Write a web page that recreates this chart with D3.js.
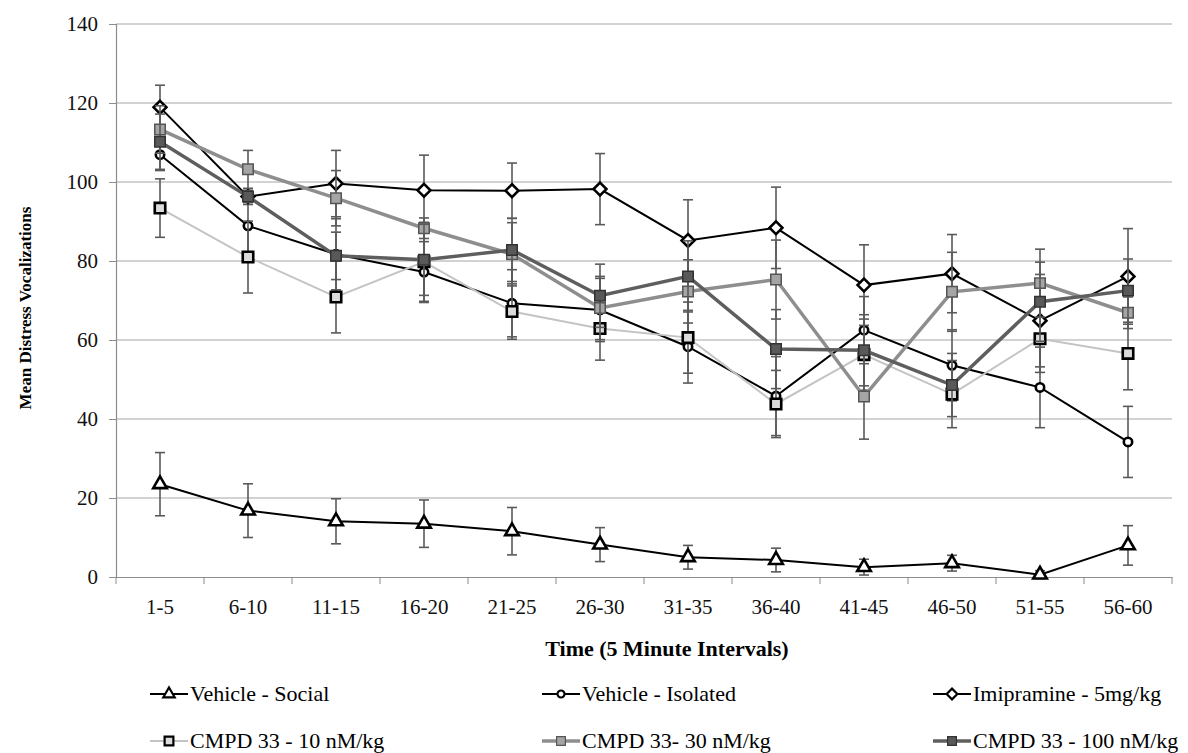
<!DOCTYPE html>
<html>
<head>
<meta charset="utf-8">
<script src="https://cdn.jsdelivr.net/npm/d3@7"></script>
<style>
  body { margin: 0; background: #fff; }
  svg, svg text { font-family: "Liberation Serif", "Times New Roman", "DejaVu Serif", serif; }
</style>
</head>
<body>
<svg width="1188" height="753"></svg>
<script>
const categories = ['1-5', '6-10', '11-15', '16-20', '21-25', '26-30', '31-35', '36-40', '41-45', '46-50', '51-55', '56-60'];
const yTicks = [0, 20, 40, 60, 80, 100, 120, 140];

const vehicleSocial = [23.5, 16.8, 14.1, 13.5, 11.6, 8.2, 5.0, 4.3, 2.5, 3.5, 0.6, 8.0];
const vehicleSocialErr = [8, 6.8, 5.7, 6, 6, 4.3, 3, 3, 2, 2, 1, 5];
const vehicleIsolated = [106.9, 88.9, 81.7, 77.2, 69.3, 67.6, 58.3, 45.8, 62.5, 53.6, 48.0, 34.2];
const vehicleIsolatedErr = [4, 8, 9, 7.7, 8.5, 8, 9.2, 10, 8.5, 9, 10.2, 9];
const imipramine = [118.9, 96.3, 99.6, 97.9, 97.8, 98.2, 85.2, 88.4, 73.9, 76.8, 64.9, 76.1];
const imipramineErr = [5.6, 2, 8.4, 8.9, 7, 9, 10.3, 10.3, 10.2, 9.9, 11.7, 12.1];
const cmpd10 = [93.4, 81.0, 70.9, 79.8, 67.2, 62.9, 60.6, 43.8, 56.3, 46.3, 60.3, 56.6];
const cmpd10Err = [7.4, 9.1, 9.1, 10, 7, 8, 9, 8.5, 9, 8.5, 8.5, 9.2];
const cmpd30 = [113.3, 103.2, 95.9, 88.3, 81.7, 68.1, 72.3, 75.3, 45.7, 72.2, 74.4, 66.9];
const cmpd30Err = [6, 4.8, 7, 2.6, 8, 8, 8, 10, 10.8, 10, 8.6, 4];
const cmpd100 = [110.2, 96.3, 81.3, 80.3, 82.8, 71.2, 76.1, 57.7, 57.4, 48.6, 69.7, 72.5];
const cmpd100Err = [7, 1.5, 6, 9, 8, 8, 9, 10, 9, 8, 10, 8];

const series = [
  { label: 'Vehicle - Social', values: vehicleSocial, err: vehicleSocialErr, shape: 'triangle', line: '#000', lw: 2, fill: '#fff', stroke: '#000' },
  { label: 'Vehicle - Isolated', values: vehicleIsolated, err: vehicleIsolatedErr, shape: 'circle', line: '#000', lw: 2, fill: '#fff', stroke: '#000' },
  { label: 'Imipramine - 5mg/kg', values: imipramine, err: imipramineErr, shape: 'diamond', line: '#000', lw: 2, fill: '#fff', stroke: '#000' },
  { label: 'CMPD 33 - 10 nM/kg', values: cmpd10, err: cmpd10Err, shape: 'square', line: '#c4c4c4', lw: 2, fill: '#dcdcdc', stroke: '#000' },
  { label: 'CMPD 33- 30 nM/kg', values: cmpd30, err: cmpd30Err, shape: 'square', line: '#8e8e8e', lw: 3.5, fill: '#a5a5a5', stroke: '#555' },
  { label: 'CMPD 33 - 100 nM/kg', values: cmpd100, err: cmpd100Err, shape: 'square', line: '#5e5e5e', lw: 3.5, fill: '#595959', stroke: '#333' }
];

const FONT = '"Liberation Serif", "Times New Roman", "DejaVu Serif", serif';
const svg = d3.select('svg');
const margin = { left: 116, right: 1172, top: 24, bottom: 577 };

const x = d3.scaleBand().domain(categories).range([margin.left, margin.right]);
const y = d3.scaleLinear().domain([0, 140]).range([margin.bottom, margin.top]);

// gridlines
svg.append('g')
  .selectAll('line')
  .data(yTicks.filter(d => d > 0))
  .join('line')
  .attr('x1', margin.left).attr('x2', margin.right)
  .attr('y1', d => y(d)).attr('y2', d => y(d))
  .attr('stroke', '#a6a6a6').attr('stroke-width', 1.2);

// y axis
const yAxis = svg.append('g')
  .attr('transform', `translate(${margin.left},0)`)
  .call(d3.axisLeft(y).tickValues(yTicks).tickSize(7).tickPadding(11))
  .attr('font-family', FONT);
yAxis.select('.domain').attr('stroke', '#8c8c8c').attr('stroke-width', 1.2);
yAxis.selectAll('.tick line').attr('stroke', '#8c8c8c');
yAxis.selectAll('text').attr('font-size', 21).attr('fill', '#111');

// x axis
const xAxis = svg.append('g')
  .attr('transform', `translate(0,${margin.bottom})`)
  .call(d3.axisBottom(x).tickSize(0).tickPadding(22))
  .attr('font-family', FONT);
xAxis.select('.domain').attr('stroke', '#8c8c8c').attr('stroke-width', 1.2);
xAxis.selectAll('text').attr('font-size', 21).attr('fill', '#111');
xAxis.append('g')
  .selectAll('line')
  .data(d3.range(categories.length + 1))
  .join('line')
  .attr('x1', i => margin.left + i * x.step()).attr('x2', i => margin.left + i * x.step())
  .attr('y1', 0).attr('y2', 7)
  .attr('stroke', '#8c8c8c');

// axis titles
svg.append('text')
  .attr('transform', `translate(31,308) rotate(-90)`)
  .attr('text-anchor', 'middle')
  .attr('font-family', FONT)
  .attr('font-size', 17).attr('font-weight', 'bold')
  .text('Mean Distress Vocalizations');
svg.append('text')
  .attr('x', 667).attr('y', 656)
  .attr('text-anchor', 'middle')
  .attr('font-family', FONT)
  .attr('font-size', 22).attr('font-weight', 'bold')
  .text('Time (5 Minute Intervals)');

const symbolFor = (shape, k) => {
  if (shape === 'triangle') return d3.symbol(d3.symbolTriangle, 80 * k)();
  if (shape === 'circle') return d3.symbol(d3.symbolCircle, 55 * k)();
  if (shape === 'diamond') return d3.symbol(d3.symbolDiamond2, 105 * k)();
  return d3.symbol(d3.symbolSquare, 110 * k)();
};

const cx = d => x(d.cat) + x.bandwidth() / 2;

series.forEach(s => {
  const pts = categories.map((cat, i) => ({ cat, v: s.values[i], e: s.err[i] }));
  const g = svg.append('g');

  const eb = g.append('g').attr('stroke', '#5a5a5a').attr('stroke-width', 1.6);
  eb.selectAll('.bar').data(pts).join('line')
    .attr('x1', cx).attr('x2', cx)
    .attr('y1', d => y(d.v - d.e)).attr('y2', d => y(d.v + d.e));
  eb.selectAll('.capTop').data(pts).join('line').attr('class', 'capTop')
    .attr('x1', d => cx(d) - 5).attr('x2', d => cx(d) + 5)
    .attr('y1', d => y(d.v + d.e)).attr('y2', d => y(d.v + d.e));
  eb.selectAll('.capBot').data(pts).join('line').attr('class', 'capBot')
    .attr('x1', d => cx(d) - 5).attr('x2', d => cx(d) + 5)
    .attr('y1', d => y(d.v - d.e)).attr('y2', d => y(d.v - d.e));

  g.append('path')
    .attr('d', d3.line().x(cx).y(d => y(d.v))(pts))
    .attr('fill', 'none')
    .attr('stroke', s.line)
    .attr('stroke-width', s.lw);

  g.selectAll('.mark').data(pts).join('path')
    .attr('transform', d => `translate(${cx(d)},${y(d.v)})`)
    .attr('d', symbolFor(s.shape, 1))
    .attr('fill', s.fill)
    .attr('stroke', s.stroke)
    .attr('stroke-width', s.shape === 'square' && s.stroke !== '#000' ? 1.5 : 2.6);
});

// legend
const legendCols = [150, 542, 933];
const legendRows = [694, 741];
const legend = svg.append('g');
series.forEach((s, i) => {
  const lx = legendCols[i % 3];
  const ly = legendRows[Math.floor(i / 3)];
  const item = legend.append('g').attr('transform', `translate(${lx},${ly})`);
  item.append('line')
    .attr('x1', 0).attr('x2', 38).attr('y1', 0).attr('y2', 0)
    .attr('stroke', s.line).attr('stroke-width', s.lw);
  item.append('path')
    .attr('transform', 'translate(19,0)')
    .attr('d', symbolFor(s.shape, 0.7))
    .attr('fill', s.fill)
    .attr('stroke', s.stroke)
    .attr('stroke-width', s.shape === 'square' && s.stroke !== '#000' ? 1.2 : 2.2);
  item.append('text')
    .attr('x', 40).attr('y', 7)
    .attr('font-family', FONT)
    .attr('font-size', 22)
    .text(s.label);
});
</script>
</body>
</html>
